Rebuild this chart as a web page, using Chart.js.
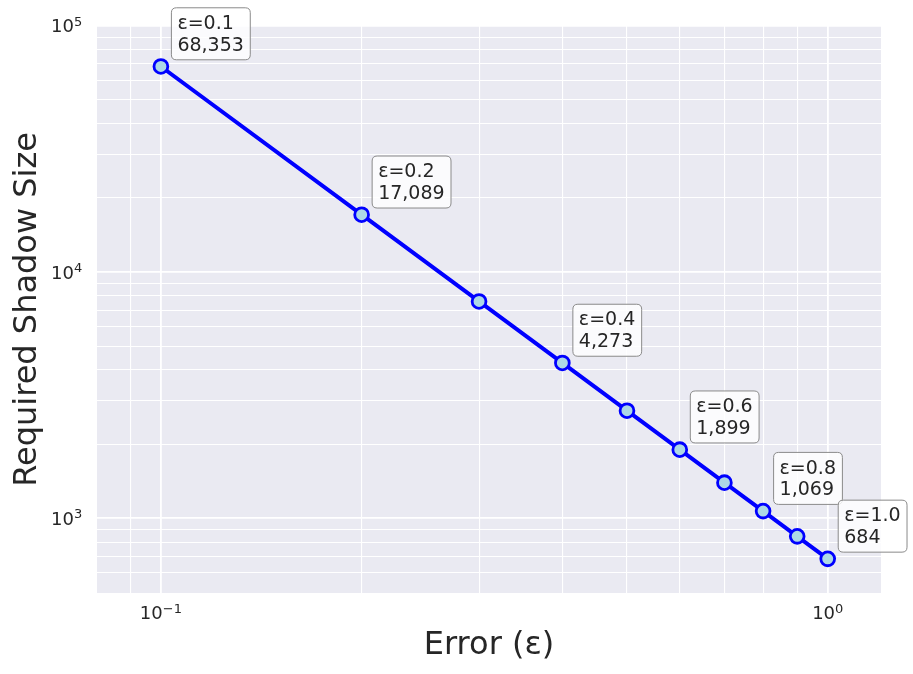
<!DOCTYPE html>
<html>
<head>
<meta charset="utf-8">
<script src="https://cdn.jsdelivr.net/npm/chart.js@4.4.1/dist/chart.umd.min.js"></script>
<style>
  html, body { margin: 0; padding: 0; background: #ffffff; }
  canvas { display: block; }
</style>
</head>
<body>
<canvas id="c" width="913" height="674"></canvas>
<script>
// ---- data ----
const errors = [0.1, 0.2, 0.3, 0.4, 0.5, 0.6, 0.7, 0.8, 0.9, 1.0];
const shadowSizes = [68353, 17089, 7595, 4273, 2734, 1899, 1395, 1069, 844, 684];
const annotatedErrors = [0.1, 0.2, 0.4, 0.6, 0.8, 1.0];
const xTickValues = [0.09, 0.1, 0.2, 0.3, 0.4, 0.5, 0.6, 0.7, 0.8, 0.9, 1.0];
const yTickValues = [600, 700, 800, 900, 1000, 2000, 3000, 4000, 5000, 6000, 7000, 8000, 9000,
  10000, 20000, 30000, 40000, 50000, 60000, 70000, 80000, 90000, 100000];
const xLabel = 'Error (ε)';
const yLabel = 'Required Shadow Size';

const TEXT = '#262626';
const FONT = 'DejaVu Sans';

function isPow10(v) {
  const l = Math.log10(v);
  return Math.abs(l - Math.round(l)) < 1e-9;
}
function expText(v) {
  const e = Math.round(Math.log10(v));
  return (e < 0 ? '\u2212' : '') + String(Math.abs(e));
}

const bgPlugin = {
  id: 'bg',
  beforeDraw(chart) {
    const {ctx, chartArea: a} = chart;
    ctx.save();
    ctx.fillStyle = '#EAEAF2';
    ctx.fillRect(a.left, a.top, a.right - a.left, a.bottom - a.top);
    ctx.restore();
  }
};

// power-of-ten tick labels drawn as base + raised exponent
const tickLabelPlugin = {
  id: 'powTicks',
  afterDraw(chart) {
    const {ctx, scales, chartArea: a} = chart;
    const big = '18px "' + FONT + '"';
    const small = '13px "' + FONT + '"';
    ctx.save();
    ctx.fillStyle = TEXT;
    ctx.textBaseline = 'alphabetic';
    ctx.textAlign = 'left';
    // y axis
    yTickValues.filter(isPow10).forEach(v => {
      const py = scales.y.getPixelForValue(v);
      const ex = expText(v);
      ctx.font = big; const wb = ctx.measureText('10').width;
      ctx.font = small; const we = ctx.measureText(ex).width;
      const right = a.left - 14.7;
      const x0 = right - we - wb;
      const base = py + 6.6;
      ctx.font = big; ctx.fillText('10', x0, base);
      ctx.font = small; ctx.fillText(ex, x0 + wb, base - 6.7);
    });
    // x axis
    xTickValues.filter(isPow10).forEach(v => {
      const px = scales.x.getPixelForValue(v);
      const ex = expText(v);
      ctx.font = big; const wb = ctx.measureText('10').width;
      ctx.font = small; const we = ctx.measureText(ex).width;
      const x0 = px - (wb + we) / 2;
      const base = a.bottom + 26.3;
      ctx.font = big; ctx.fillText('10', x0, base);
      ctx.font = small; ctx.fillText(ex, x0 + wb, base - 6.7);
    });
    ctx.restore();
  }
};

function roundRect(ctx, x, y, w, h, r) {
  ctx.beginPath();
  ctx.moveTo(x + r, y);
  ctx.lineTo(x + w - r, y);
  ctx.quadraticCurveTo(x + w, y, x + w, y + r);
  ctx.lineTo(x + w, y + h - r);
  ctx.quadraticCurveTo(x + w, y + h, x + w - r, y + h);
  ctx.lineTo(x + r, y + h);
  ctx.quadraticCurveTo(x, y + h, x, y + h - r);
  ctx.lineTo(x, y + r);
  ctx.quadraticCurveTo(x, y, x + r, y);
  ctx.closePath();
}

const annotPlugin = {
  id: 'annot',
  afterDatasetsDraw(chart) {
    const {ctx, scales} = chart;
    ctx.save();
    ctx.font = '19px "' + FONT + '"';
    annotatedErrors.forEach(e => {
      const i = errors.indexOf(e);
      const v = shadowSizes[i];
      const px = scales.x.getPixelForValue(e);
      const py = scales.y.getPixelForValue(v);
      const l1 = 'ε=' + e.toFixed(1);
      const l2 = v.toLocaleString('en-US');
      const tw = Math.max(ctx.measureText(l1).width, ctx.measureText(l2).width);
      const bw = tw + 12.4;
      const bh = 52;
      const bx = px + 10.5;
      const by = py - 6.7 - bh;
      roundRect(ctx, bx, by, bw, bh, 5);
      ctx.fillStyle = 'rgba(255,255,255,0.8)';
      ctx.fill();
      ctx.strokeStyle = '#8a8a8a';
      ctx.lineWidth = 1;
      ctx.stroke();
      ctx.fillStyle = TEXT;
      ctx.textAlign = 'left';
      ctx.textBaseline = 'alphabetic';
      ctx.fillText(l1, bx + 6, by + 21.2);
      ctx.fillText(l2, bx + 6, by + 43);
    });
    ctx.restore();
  }
};

const gridWidth = (ctx) => (ctx.tick && isPow10(ctx.tick.value)) ? 1.8 : 1.1;

new Chart(document.getElementById('c'), {
  type: 'line',
  data: {
    datasets: [{
      data: errors.map((e, i) => ({x: e, y: shadowSizes[i]})),
      borderColor: '#0000FF',
      borderWidth: 4,
      tension: 0,
      pointRadius: 6.9,
      pointHoverRadius: 6.9,
      pointBackgroundColor: '#ADD8E6',
      pointBorderColor: '#0000FF',
      pointBorderWidth: 2.8,
      fill: false
    }]
  },
  options: {
    responsive: false,
    animation: false,
    devicePixelRatio: 1,
    layout: { padding: { left: 0, top: 23, right: 32, bottom: 0 } },
    plugins: {
      legend: { display: false },
      tooltip: { enabled: false }
    },
    scales: {
      x: {
        type: 'logarithmic',
        min: 0.0802,
        max: 1.202,
        afterBuildTicks: (s) => { s.ticks = xTickValues.map(v => ({value: v, major: isPow10(v)})); },
        afterFit: (s) => { s.height = 81; },
        border: { display: false },
        grid: { color: '#ffffff', lineWidth: gridWidth, drawTicks: false },
        ticks: {
          autoSkip: false, maxRotation: 0, minRotation: 0, padding: 8,
          color: TEXT, font: { family: FONT, size: 18 },
          callback: () => ''
        },
        title: {
          display: true, text: xLabel, color: TEXT,
          font: { family: FONT, size: 32 },
          padding: { top: 0, bottom: 8.8 }
        }
      },
      y: {
        type: 'logarithmic',
        min: 497,
        max: 100000,
        afterBuildTicks: (s) => { s.ticks = yTickValues.map(v => ({value: v, major: isPow10(v)})); },
        afterFit: (s) => { s.width = 97; },
        border: { display: false },
        grid: { color: '#ffffff', lineWidth: gridWidth, drawTicks: false },
        ticks: {
          autoSkip: false, padding: 15,
          color: TEXT, font: { family: FONT, size: 18 },
          callback: () => ''
        },
        title: {
          display: true, text: yLabel, color: TEXT,
          font: { family: FONT, size: 32 },
          padding: { top: 8.8, bottom: 0 }
        }
      }
    }
  },
  plugins: [bgPlugin, annotPlugin, tickLabelPlugin]
});
</script>
</body>
</html>
